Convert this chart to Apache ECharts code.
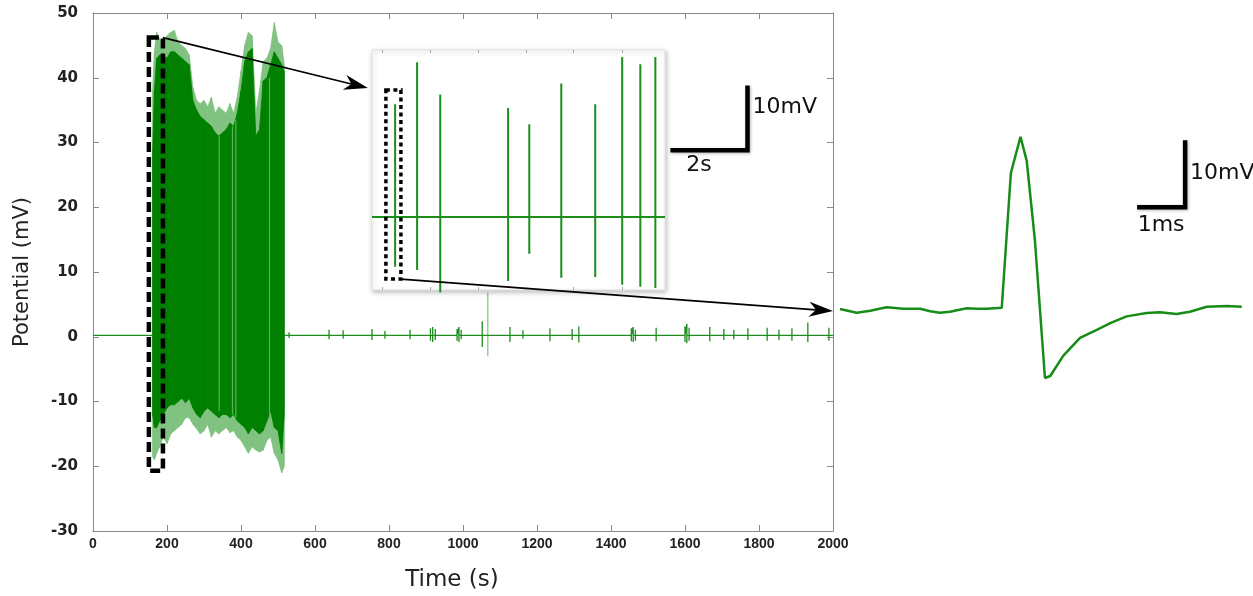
<!DOCTYPE html>
<html><head><meta charset="utf-8">
<script src="https://cdn.jsdelivr.net/npm/echarts@6/dist/echarts.min.js"></script>
<style>html,body{margin:0;padding:0;background:#fff}#c{width:1253px;height:596px}</style>
</head><body><div id="c"></div>
<script>
// ================= DATA =================
// Main recording: time (s) vs potential (mV)
const xMin = 0, xMax = 2000, xStep = 200;
const yMin = -30, yMax = 50, yStep = 10;

// Burst envelope (dense firing between ~160 s and ~517 s)
const burstT       = [161, 166, 172, 180, 190, 200, 210, 220, 230, 240, 250, 260, 270, 280, 290, 300, 310, 320, 330, 340, 350, 360, 370, 380, 390, 400, 410, 420, 430, 440, 450, 460, 470, 480, 490, 500, 510, 517];
const burstDarkHi  = [28, 38, 43, 43.5, 43.5, 43, 44, 44, 43.5, 43, 42.5, 42, 36.5, 35, 34, 33.5, 33, 32.5, 31.5, 31, 31.5, 32, 33, 32.5, 34.5, 38, 42.5, 44, 44.5, 31, 32, 39.5, 40, 42, 44, 43, 42, 41];
const burstDarkLo  = [-12, -14, -14, -13, -12, -11, -10.5, -10.5, -10, -9.5, -10.2, -9.5, -11, -12, -12.5, -11.5, -11, -11.5, -12, -12.5, -12, -12, -12.5, -12, -13, -13.5, -14, -15, -14, -14.5, -15, -14.5, -13, -11.5, -14, -14.5, -18, -12];
const burstLightHi = [38, 44, 47, 46, 45, 46.5, 47, 47.3, 45.5, 45, 44.5, 43.5, 38.5, 36.5, 36, 36.5, 35.5, 37, 34.5, 35.5, 35, 34.5, 36, 34.5, 37, 41, 45, 47, 46.5, 34.5, 38, 42.5, 43, 44.5, 48.5, 45.5, 45, 42];
const burstLightLo = [-18.5, -19, -18, -17, -15.5, -16.5, -15, -14.5, -14, -13.5, -12.5, -12.5, -13.5, -14.2, -15, -14.5, -13.5, -15.5, -14.5, -15, -14.5, -14, -14.8, -14.5, -15.5, -16, -17, -18, -17, -17.5, -17.8, -17.5, -16, -15.5, -18, -19, -21, -20];
// Pale streaks crossing the burst
const gapT  = [341, 377, 386, 477];
const gapHi = [31, 32.5, 33.5, 40];
const gapLo = [-11.5, -12, -12.5, -12.5];

// Resting level and isolated small spikes after the burst
const baselineLevel = 0.2;
const spikeT  = [530, 638, 676, 754, 789, 857, 912, 918, 925, 984, 989, 995, 1052, 1127, 1162, 1235, 1295, 1313, 1455, 1460, 1466, 1522, 1600, 1605, 1611, 1667, 1705, 1732, 1770, 1822, 1854, 1889, 1932, 1989];
const spikeHi = [0.7, 1.1, 1.0, 1.2, 0.9, 1.1, 1.3, 1.5, 1.2, 1.2, 1.5, 1.1, 2.4, 1.5, 1.0, 1.3, 1.2, 1.6, 1.3, 1.5, 1.1, 1.4, 1.6, 2.0, 1.4, 1.5, 1.2, 1.1, 1.3, 1.4, 1.1, 1.3, 2.2, 1.4];
const spikeLo = [-0.2, -0.4, -0.3, -0.5, -0.3, -0.4, -0.6, -0.8, -0.5, -0.6, -0.8, -0.4, -1.6, -0.8, -0.3, -0.7, -0.5, -0.9, -0.7, -0.8, -0.6, -0.7, -0.8, -1.0, -0.6, -0.7, -0.5, -0.4, -0.5, -0.6, -0.5, -0.6, -0.8, -0.6];
const straySpikeT = [1067], straySpikeHi = [6.8], straySpikeLo = [-3.0];

// Inset: zoom on the first seconds of the burst (s, mV)
const insetXMax = 7.6, insetYMin = -11.3, insetYMax = 25.9;
const insetTickT   = [0.26, 1.51, 2.75, 4.0, 5.22, 6.49];
const insetSpikeT  = [0.60, 1.17, 1.77, 3.53, 4.08, 4.91, 5.79, 6.49, 6.96, 7.35];
const insetSpikeHi = [17.5, 24.0, 19.0, 16.9, 14.4, 20.7, 17.5, 24.8, 23.7, 24.8];
const insetSpikeLo = [-7.7, -8.2, -11.7, -9.9, -5.7, -9.4, -9.3, -10.5, -10.8, -11.0];

// Single action potential waveform (ms, mV)
const waveXMax = 8.375, waveYMin = -12, waveYMax = 28;
const waveT = [0.0, 0.35, 0.63, 0.97, 1.32, 1.67, 1.88, 2.08, 2.29, 2.64, 2.85, 3.06, 3.37, 3.56, 3.76, 3.89, 4.06, 4.27, 4.38, 4.65, 5.0, 5.35, 5.63, 5.97, 6.39, 6.67, 7.01, 7.29, 7.64, 8.06, 8.37];
const waveV = [0.0, -0.55, -0.25, 0.25, 0.04, 0.04, -0.34, -0.55, -0.4, 0.1, 0.04, 0.04, 0.19, 20.3, 25.7, 22.1, 10.3, -10.3, -10.0, -7.0, -4.3, -3.1, -2.1, -1.1, -0.6, -0.5, -0.75, -0.4, 0.34, 0.45, 0.34];

// Annotations (in data units of their panel)
const mainZoomBox  = [151, 46.2, 189, -20.7];     // t1, v1, t2, v2
const insetZoomBox = [0.36, 19.7, 0.75, -9.6];
const arrows = [[189, 46.2, 743, 38.4], [832, 8.9, 2000, 3.96]];
const insetScale = {x: 9.74, y: 10.38, dx: 2, dy: 10, xLabel: '2s', yLabel: '10mV'};
const waveScale  = {x: 7.19, y: 15.2, dx: 1, dy: 10, xLabel: '1ms', yLabel: '10mV'};

// ================= CHART =================
const GREEN = '#008000';
const FRINGE = '#80c280';
const chart = echarts.init(document.getElementById('c'));

function bandRows(hi, lo) {
  const rows = [];
  for (let i = 0; i < burstT.length - 1; i++) rows.push([burstT[i], lo[i], hi[i], burstT[i + 1], lo[i + 1], hi[i + 1]]);
  return rows;
}
function bandRender(color) {
  return function (params, api) {
    const a = api.coord([api.value(0), api.value(2)]);
    const b = api.coord([api.value(3), api.value(5)]);
    const c = api.coord([api.value(3), api.value(4)]);
    const d = api.coord([api.value(0), api.value(1)]);
    return {type: 'polygon', shape: {points: [a, b, c, d]}, style: {fill: color, stroke: color, lineWidth: 0.8}};
  };
}
function vSegRender(color, width) {
  return function (params, api) {
    const p1 = api.coord([api.value(0), api.value(1)]);
    const p2 = api.coord([api.value(0), api.value(2)]);
    return {type: 'line', shape: {x1: p1[0], y1: p1[1], x2: p2[0], y2: p2[1]}, style: {stroke: color, lineWidth: width}};
  };
}
function dashBoxRender(width, dash) {
  return function (params, api) {
    const p1 = api.coord([api.value(0), api.value(1)]);
    const p2 = api.coord([api.value(2), api.value(3)]);
    return {type: 'rect', shape: {x: p1[0], y: p1[1], width: p2[0] - p1[0], height: p2[1] - p1[1]},
      style: {fill: 'none', stroke: '#000', lineWidth: width, lineDash: dash, lineCap: 'butt'}};
  };
}
function arrowRender(params, api) {
  const p1 = api.coord([api.value(0), api.value(1)]);
  const p2 = api.coord([api.value(2), api.value(3)]);
  const dx = p2[0] - p1[0], dy = p2[1] - p1[1], len = Math.hypot(dx, dy);
  const ux = dx / len, uy = dy / len, nx = -uy, ny = ux;
  const L = 24, W = 7.5, ind = 7;
  const base = [p2[0] - L * ux, p2[1] - L * uy];
  return {type: 'group', children: [
    {type: 'line', shape: {x1: p1[0], y1: p1[1], x2: p2[0] - (L - ind) * ux, y2: p2[1] - (L - ind) * uy}, style: {stroke: '#000', lineWidth: 1.6}},
    {type: 'polygon', shape: {points: [p2, [base[0] + W * nx, base[1] + W * ny], [p2[0] - (L - ind) * ux, p2[1] - (L - ind) * uy], [base[0] - W * nx, base[1] - W * ny]]}, style: {fill: '#000'}}
  ]};
}
function scaleBarRender(sb, xOff, yOff) {
  return function (params, api) {
    const c = api.coord([sb.x, sb.y]);
    const l = api.coord([sb.x - sb.dx, sb.y]);
    const t = api.coord([sb.x, sb.y + sb.dy]);
    const txt = {fill: '#111', font: '22px "DejaVu Sans"', shadowBlur: 3, shadowColor: 'rgba(0,0,0,0.35)', shadowOffsetX: 1, shadowOffsetY: 1};
    return {type: 'group', children: [
      {type: 'polyline', shape: {points: [l, c, t]}, style: {stroke: '#000', lineWidth: 4.5, fill: 'none', lineJoin: 'miter', shadowBlur: 3, shadowColor: 'rgba(0,0,0,0.3)', shadowOffsetX: 1, shadowOffsetY: 1}},
      {type: 'text', style: Object.assign({text: sb.xLabel, x: (l[0] + c[0]) / 2 + xOff[0], y: c[1] + xOff[1], align: 'center', verticalAlign: 'middle'}, txt)},
      {type: 'text', style: Object.assign({text: sb.yLabel, x: c[0] + 5, y: (c[1] + t[1]) / 2 + yOff, align: 'left', verticalAlign: 'middle'}, txt)}
    ]};
  };
}

// Built tables
const basePts = [[xMin, baselineLevel]];
spikeT.forEach((t, i) => { basePts.push([t, baselineLevel], [t, spikeHi[i]], [t, spikeLo[i]], [t, baselineLevel]); });
basePts.push([xMax, baselineLevel]);
const insetPts = [[0, 0]];
insetSpikeT.forEach((t, i) => { insetPts.push([t, 0], [t, insetSpikeHi[i]], [t, insetSpikeLo[i]], [t, 0]); });
insetPts.push([insetXMax, 0]);
const wavePts = waveT.map((t, i) => [t, waveV[i]]);

const plain = v => String(v);
const xTickLabel = {fontFamily: 'Liberation Sans', fontWeight: 'bold', fontSize: 14, color: '#222', formatter: plain};
const yTickLabel = {fontFamily: 'DejaVu Sans', fontWeight: 'bold', fontSize: 15, color: '#222', formatter: plain};
const frameTick = {show: true, inside: true, length: 6, lineStyle: {color: '#888'}};
const frameLine = {show: true, onZero: false, lineStyle: {color: '#888', width: 1}};

const option = {
  animation: false,
  backgroundColor: '#fff',
  grid: [
    {left: 93, top: 13, width: 740, height: 518, show: false, z: 0, outerBoundsMode: 'none', containLabel: false},
    {left: 372, top: 50, width: 293, height: 240, show: true, backgroundColor: '#fff', borderColor: '#e2e2e2', borderWidth: 1,
     shadowBlur: 5, shadowColor: 'rgba(0,0,0,0.25)', shadowOffsetX: 1, shadowOffsetY: 2, z: 5, outerBoundsMode: 'none', containLabel: false},
    {left: 840, top: 309 - waveYMax * 6.7, width: 402, height: (waveYMax - waveYMin) * 6.7, show: false, outerBoundsMode: 'none', containLabel: false}
  ],
  xAxis: [
    {gridIndex: 0, type: 'value', min: xMin, max: xMax, interval: xStep, position: 'bottom',
     name: 'Time (s)', nameLocation: 'middle', nameGap: 38,
     nameTextStyle: {fontFamily: 'DejaVu Sans', fontSize: 23, color: '#222', padding: [0, 22, 0, 0]},
     axisLine: frameLine, axisTick: frameTick, splitLine: {show: false},
     axisLabel: Object.assign({margin: 6}, xTickLabel)},
    {gridIndex: 0, type: 'value', min: xMin, max: xMax, interval: xStep, position: 'top',
     axisLine: frameLine, axisTick: frameTick, splitLine: {show: false}, axisLabel: {show: false}},
    {gridIndex: 1, type: 'value', min: 0, max: insetXMax, position: 'bottom', z: 6,
     axisLine: {show: false, onZero: false}, splitLine: {show: false}, axisLabel: {show: false},
     axisTick: {show: true, inside: true, length: 3, customValues: insetTickT, lineStyle: {color: '#aaa'}}},
    {gridIndex: 1, type: 'value', min: 0, max: insetXMax, position: 'top', z: 6,
     axisLine: {show: false, onZero: false}, splitLine: {show: false}, axisLabel: {show: false},
     axisTick: {show: true, inside: true, length: 3, customValues: insetTickT, lineStyle: {color: '#aaa'}}},
    {gridIndex: 2, type: 'value', min: 0, max: waveXMax, show: false}
  ],
  yAxis: [
    {gridIndex: 0, type: 'value', min: yMin, max: yMax, interval: yStep, position: 'left',
     name: 'Potential (mV)', nameLocation: 'middle', nameGap: 60,
     nameTextStyle: {fontFamily: 'DejaVu Sans', fontSize: 21, color: '#222'},
     axisLine: frameLine, axisTick: frameTick, splitLine: {show: false},
     axisLabel: Object.assign({margin: 15}, yTickLabel)},
    {gridIndex: 0, type: 'value', min: yMin, max: yMax, interval: yStep, position: 'right',
     axisLine: frameLine, axisTick: frameTick, splitLine: {show: false}, axisLabel: {show: false}},
    {gridIndex: 1, type: 'value', min: insetYMin, max: insetYMax, show: false},
    {gridIndex: 2, type: 'value', min: waveYMin, max: waveYMax, show: false}
  ],
  series: [
    // main panel
    {type: 'line', xAxisIndex: 0, yAxisIndex: 0, data: basePts, showSymbol: false, z: 2,
     lineStyle: {color: '#1e8c1e', width: 1.3}, silent: true},
    {type: 'custom', xAxisIndex: 0, yAxisIndex: 0, renderItem: vSegRender('#8cc88c', 1.3), z: 2,
     data: straySpikeT.map((t, i) => [t, straySpikeLo[i], straySpikeHi[i]]), silent: true},
    {type: 'custom', xAxisIndex: 0, yAxisIndex: 0, renderItem: bandRender(FRINGE), z: 3,
     data: bandRows(burstLightHi, burstLightLo), silent: true},
    {type: 'custom', xAxisIndex: 0, yAxisIndex: 0, renderItem: bandRender(GREEN), z: 3,
     data: bandRows(burstDarkHi, burstDarkLo), silent: true},
    {type: 'custom', xAxisIndex: 0, yAxisIndex: 0, renderItem: vSegRender('#5aae5a', 1.2), z: 3,
     data: gapT.map((t, i) => [t, gapLo[i], gapHi[i]]), silent: true},
    {type: 'custom', xAxisIndex: 0, yAxisIndex: 0, renderItem: dashBoxRender(4.5, [10, 5]), z: 4, clip: false,
     data: [mainZoomBox], silent: true},
    // inset
    {type: 'line', xAxisIndex: 2, yAxisIndex: 2, data: insetPts, showSymbol: false, z: 6, clip: false,
     lineStyle: {color: '#1a8f1a', width: 2}, silent: true},
    {type: 'custom', xAxisIndex: 2, yAxisIndex: 2, renderItem: dashBoxRender(3.5, [4, 3.5]), z: 7, clip: false,
     data: [insetZoomBox], silent: true},
    {type: 'custom', xAxisIndex: 2, yAxisIndex: 2, renderItem: scaleBarRender(insetScale, [-10, 15], -11), z: 7, clip: false,
     data: [[insetScale.x, insetScale.y]], silent: true},
    // waveform
    {type: 'line', xAxisIndex: 4, yAxisIndex: 3, data: wavePts, showSymbol: false, z: 3,
     lineStyle: {color: '#178c17', width: 2.5}, silent: true},
    {type: 'custom', xAxisIndex: 4, yAxisIndex: 3, renderItem: scaleBarRender(waveScale, [0, 18], 0), z: 7, clip: false,
     data: [[waveScale.x, waveScale.y]], silent: true},
    // arrows
    {type: 'custom', xAxisIndex: 0, yAxisIndex: 0, renderItem: arrowRender, z: 10, clip: false,
     data: arrows, silent: true}
  ]
};
chart.setOption(option);
</script>
</body></html>
